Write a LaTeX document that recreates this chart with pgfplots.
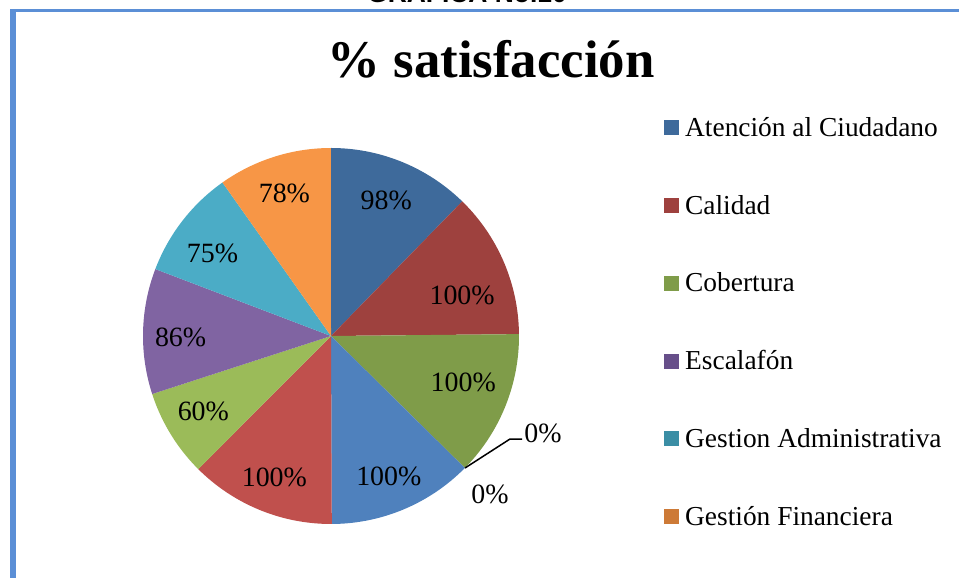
\documentclass[border=0pt]{standalone}
\usepackage{fontspec}
\setmainfont{Liberation Serif}
\newfontfamily\headsans{Liberation Sans}
\usepackage{pgfplots}
\pgfplotsset{compat=1.18}
\usepackage{pgfplotstable}

\definecolor{c1}{HTML}{3E6A9B}
\definecolor{c2}{HTML}{9E413E}
\definecolor{c3}{HTML}{7F9C49}
\definecolor{c4}{HTML}{674F8A}
\definecolor{c5}{HTML}{3B8EA5}
\definecolor{c6}{HTML}{CD7A37}
\definecolor{c7}{HTML}{4F81BD}
\definecolor{c8}{HTML}{C0504D}
\definecolor{c9}{HTML}{9BBB59}
\definecolor{c10}{HTML}{8064A2}
\definecolor{c11}{HTML}{4BACC6}
\definecolor{c12}{HTML}{F79646}
\definecolor{framecol}{HTML}{5B8FD6}

% satisfaction per area, clockwise from 12 o'clock
% lr / la: label radius and angle shift, as Excel placed them
\pgfplotstableread{
value col lr   la
98  c1  0.78  0
100 c2  0.73 -6
100 c3  0.745 2.8
0   c4  0     0
0   c5  0     0
0   c6  0     0
100 c7  0.81 -0.5
100 c8  0.81  0.5
60  c9  0.79 -0.8
86  c10 0.80  1.9
75  c11 0.77  2.8
78  c12 0.80  0.4
}\piedata

\newcommand\labelfont{\fontsize{28}{31}\selectfont}

\begin{document}
\begin{tikzpicture}
\path[use as bounding box, clip] (0,0) rectangle (959bp,578bp);

% total of all slices
\pgfplotstablegetrowsof{\piedata}
\pgfmathtruncatemacro\lastrow{\pgfplotsretval-1}
\def\total{0}
\pgfplotsforeachungrouped \i in {0,...,\lastrow}{%
  \pgfplotstablegetelem{\i}{value}\of\piedata
  \pgfmathsetmacro\total{\total+\pgfplotsretval}%
}

% build one filled plot per slice
\def\pieplots{}
\def\curangle{90}
\pgfplotsforeachungrouped \i in {0,...,\lastrow}{%
  \pgfplotstablegetelem{\i}{value}\of\piedata \let\sliceval\pgfplotsretval
  \pgfplotstablegetelem{\i}{col}\of\piedata \let\slicecol\pgfplotsretval
  \pgfplotstablegetelem{\i}{lr}\of\piedata \let\labr\pgfplotsretval
  \pgfplotstablegetelem{\i}{la}\of\piedata \let\laba\pgfplotsretval
  \pgfmathtruncatemacro\pos{\sliceval>0}%
  \ifnum\pos=1
    \pgfmathsetmacro\sweep{\sliceval/\total*360}%
    \pgfmathsetmacro\endang{\curangle-\sweep}%
    \xdef\coords{(0,0)}%
    \foreach \k in {0,...,48}{%
      \pgfmathsetmacro\ang{\curangle-\k*\sweep/48}%
      \pgfmathsetmacro\px{cos(\ang)}%
      \pgfmathsetmacro\py{sin(\ang)}%
      \xdef\coords{\coords (\px,\py)}%
    }%
    \xdef\coords{\coords (0,0)}%
    \pgfmathsetmacro\midang{\curangle-\sweep/2+\laba}%
    \pgfmathsetmacro\lx{\labr*cos(\midang)}%
    \pgfmathsetmacro\ly{\labr*sin(\midang)}%
    \xdef\pieplots{\unexpanded\expandafter{\pieplots}%
      \noexpand\addplot[fill=\slicecol, draw=none, forget plot] coordinates {\coords};%
      \noexpand\node[font=\noexpand\labelfont] at (axis cs:\lx,\ly) {\sliceval\noexpand\%};}%
    \let\curangle\endang
  \fi
}

\begin{axis}[
  at={(331bp,242bp)}, anchor=center,
  width=376bp, height=376bp, scale only axis,
  xmin=-1, xmax=1, ymin=-1, ymax=1,
  hide axis, clip=false,
  legend image code/.code={\fill[#1, draw=none] (0bp,-7.5bp) rectangle (15bp,7.5bp);},
  legend cell align=left,
  legend style={draw=none, fill=none, at={(1.3856,1.0904)}, anchor=north west,
    inner sep=0pt, row sep=50.8bp, font=\fontsize{27.5}{30}\selectfont,
    nodes={inner xsep=6bp, inner ysep=0pt, text height=22bp, text depth=5bp}},
]
\pieplots
\draw[black, line width=1.5bp] (axis cs:0.713,-0.702) -- (axis cs:0.952,-0.548) -- (axis cs:1.016,-0.548);
\node[font=\labelfont] at (axis cs:1.128,-0.516) {0\%};
\node[font=\labelfont] at (axis cs:0.846,-0.840) {0\%};

\addlegendimage{fill=c1}\addlegendentry{Atención al Ciudadano}
\addlegendimage{fill=c2}\addlegendentry{Calidad}
\addlegendimage{fill=c3}\addlegendentry{Cobertura}
\addlegendimage{fill=c4}\addlegendentry{Escalafón}
\addlegendimage{fill=c5}\addlegendentry{Gestion Administrativa}
\addlegendimage{fill=c6}\addlegendentry{Gestión Financiera}
\end{axis}

\node[font=\bfseries\fontsize{53}{60}\selectfont, anchor=base] at (491bp,500bp) {\% satisfacción};
\node[font=\headsans\bfseries\fontsize{26.5}{30}\selectfont, anchor=base] at (467bp,575.5bp) {GRÁFICA No.10};
\fill[framecol] (10bp,566bp) rectangle (959bp,569bp);
\fill[framecol] (10bp,0bp) rectangle (16bp,569bp);
\end{tikzpicture}
\end{document}
